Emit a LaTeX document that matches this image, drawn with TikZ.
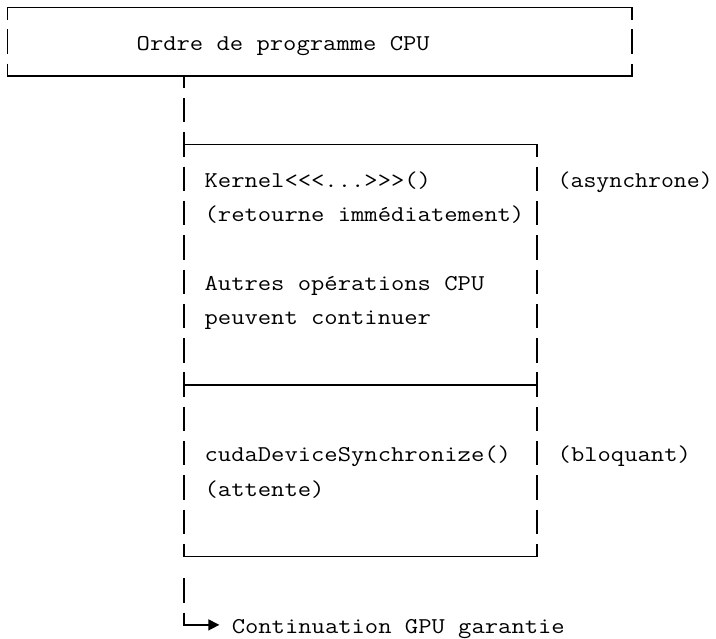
\documentclass[tikz,border=0pt]{standalone}
\usetikzlibrary{arrows.meta}
\newcommand\mtext[1]{\scalebox{1.1445}[1]{#1}}
\newcommand\vb[2]{\draw[ln] (#1,#2-0.36) -- (#1,#2+0.35);}
\begin{document}
\begin{tikzpicture}[x=13.58pt, y=-34.3pt,
  ln/.style={line width=1.5pt, black},
  txt/.style={anchor=base west, inner sep=0pt, yshift=-8.5pt,
    font=\fontsize{22.6}{27}\selectfont\ttfamily, text=black}]
\useasboundingbox (-7.5pt,7.5pt) rectangle (708.5pt,-631.5pt);
% top box
\draw[ln] (0,0.35) -- (0,0) -- (46,0) -- (46,0.35);
\vb{0}{1} \vb{46}{1}
\draw[ln] (0,1.64) -- (0,2) -- (46,2) -- (46,1.64);
\draw[ln] (13,2) -- (13,2.35);
\vb{13}{3}
% middle box
\vb{13}{4}
\draw[ln] (13,4) -- (39,4) -- (39,4.35);
\foreach \r in {5,...,10,12,13,14,15} { \vb{13}{\r} \vb{39}{\r} }
\vb{13}{11} \vb{39}{11}
\draw[ln] (13,11) -- (39,11);
\draw[ln] (13,15.64) -- (13,16) -- (39,16) -- (39,15.64);
\vb{13}{17}
\coordinate (arrowend) at (15.6,18);
\draw[ln, -{Triangle[length=11pt,width=11pt]}] (13,17.64) -- (13,18) -- (arrowend);
% texts
\node[txt] (ordre) at (9.5,1) {\mtext{Ordre de programme CPU}};
\node[txt] (kernel) at (14.5,5) {\mtext{Kernel<<<...>>>()}};
\node[txt] (async) at (40.5,5) {\scalebox{1.11}[1]{(asynchrone)}};
\node[txt] (retour) at (14.5,6) {\mtext{(retourne immédiatement)}};
\node[txt] (autres) at (14.5,8) {\mtext{Autres opérations CPU}};
\node[txt] (peuvent) at (14.5,9) {\mtext{peuvent continuer}};
\node[txt] (cuda) at (14.5,13) {\mtext{cudaDeviceSynchronize()}};
\node[txt] (bloq) at (40.5,13) {\mtext{(bloquant)}};
\node[txt] (attente) at (14.5,14) {\mtext{(attente)}};
\node[txt] (cont) at (16.5,18) {\mtext{Continuation GPU garantie}};
\end{tikzpicture}
\end{document}
